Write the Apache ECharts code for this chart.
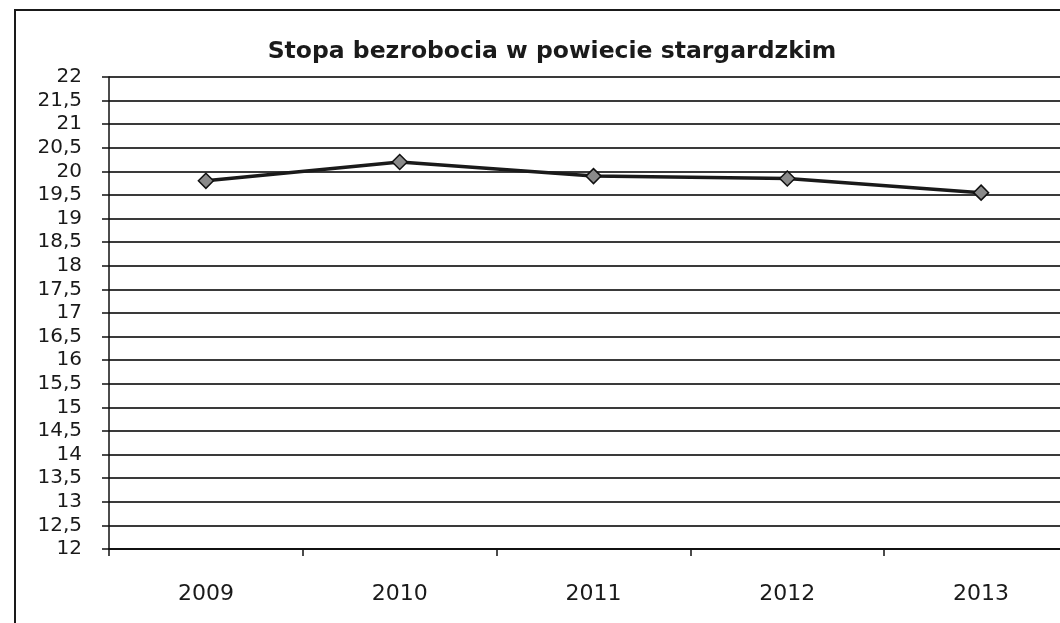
<!DOCTYPE html>
<html>
<head>
<meta charset="utf-8">
<script src="https://cdn.jsdelivr.net/npm/echarts@6/dist/echarts.min.js"></script>
<style>html,body{margin:0;padding:0;background:#fff;overflow:hidden;width:1060px;height:623px;}#c{width:1078px;height:623px;}</style>
</head>
<body>
<div id="c"></div>
<script>
const titleText = 'Stopa bezrobocia w powiecie stargardzkim';
const years = ['2009', '2010', '2011', '2012', '2013'];
const rates = [19.8, 20.2, 19.9, 19.85, 19.55];
const yMin = 12, yMax = 22, yStep = 0.5;

const chart = echarts.init(document.getElementById('c'), null, {renderer: 'canvas'});
const fontFam = '"DejaVu Sans", sans-serif';
chart.setOption({
  backgroundColor: '#fff',
  animation: false,
  title: {
    text: titleText, left: 547, top: 35, textAlign: 'center',
    textStyle: {fontFamily: fontFam, fontSize: 23.5, fontWeight: 'bold', color: '#1a1a1a'}
  },
  graphic: [{
    type: 'rect', shape: {x: 15, y: 10, width: 1200, height: 800},
    style: {fill: 'none', stroke: '#1a1a1a', lineWidth: 2}, silent: true
  }],
  grid: {left: 109, right: 0, top: 77, bottom: 74, containLabel: false},
  xAxis: {
    type: 'category', data: years, boundaryGap: true,
    axisLine: {lineStyle: {color: '#111', width: 2}},
    axisTick: {show: true, length: 7, lineStyle: {color: '#111', width: 1.5}},
    axisLabel: {fontFamily: fontFam, fontSize: 22, color: '#1a1a1a', margin: 34}
  },
  yAxis: {
    type: 'value', min: yMin, max: yMax, interval: yStep,
    axisLine: {show: true, lineStyle: {color: '#111', width: 1.5}},
    axisTick: {show: true, length: 7, lineStyle: {color: '#111', width: 1.5}},
    splitLine: {lineStyle: {color: '#3a3a3a', width: 2}},
    axisLabel: {
      fontFamily: fontFam, fontSize: 20, color: '#1a1a1a', margin: 27,
      formatter: v => String(v).replace('.', ',')
    }
  },
  series: [{
    type: 'line', data: rates,
    lineStyle: {color: '#1a1a1a', width: 3.5},
    symbol: 'diamond', symbolSize: 15,
    itemStyle: {color: '#8a8a8a', borderColor: '#111', borderWidth: 1.5}
  }]
});
</script>
</body>
</html>
